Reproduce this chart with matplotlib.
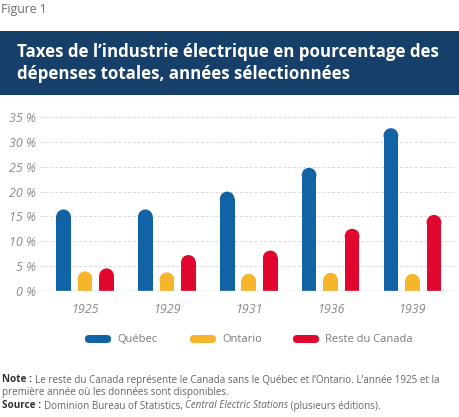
import numpy as np
import matplotlib.pyplot as plt
from matplotlib.patches import Rectangle, Ellipse, FancyBboxPatch

years = ["1925", "1929", "1931", "1936", "1939"]
quebec = [16.4, 16.4, 20.0, 24.8, 32.8]
ontario = [3.9, 3.7, 3.4, 3.6, 3.4]
reste = [4.5, 7.2, 8.1, 12.5, 15.3]

series_names = ["Québec", "Ontario", "Reste du Canada"]
colors = ["#1163a6", "#f7b52c", "#e0062e"]

W, H = 460, 417
fig = plt.figure(figsize=(W / 100, H / 100), dpi=100)
fig.patch.set_facecolor("white")

FONT = "Open Sans"
GREY = "#8a8a8a"

# figure label and title banner
fig.text(1 / W, 1 - 9 / H, "Figure 1", fontsize=8.8, color="#6f6f6f",
         family=FONT, va="center", ha="left")
fig.patches.append(Rectangle((0, 1 - 95 / H), 1, 64 / H, transform=fig.transFigure,
                             facecolor="#163f6a", edgecolor="none"))
fig.text(17 / W, 1 - 52 / H, "Taxes de l\u2019industrie électrique en pourcentage des",
         fontsize=12.2, color="white", weight="bold", family=FONT, va="center")
fig.text(17 / W, 1 - 74 / H, "dépenses totales, années sélectionnées",
         fontsize=12.2, color="white", weight="bold", family=FONT, va="center")

# chart area
x0, x1 = 40, 455
ytop, ybot = 117.3, 290.7
ax = fig.add_axes([x0 / W, 1 - ybot / H, (x1 - x0) / W, (ybot - ytop) / H])
xmin, xmax = -0.55, 4.52
ymax = 35
ax.set_xlim(xmin, xmax)
ax.set_ylim(0, ymax)
for s in ax.spines.values():
    s.set_visible(False)

for v in range(5, 40, 5):
    ax.axhline(v, color="#d9d9d9", lw=0.7, ls=(0, (3, 2)), zorder=0)
ax.axhline(0, color="#cfd3da", lw=1.0, zorder=3)

bw = 0.18
offs = [-0.263, 0.0, 0.263]
# radius of the round caps, in data units
px_x = (x1 - x0) / (xmax - xmin)
px_y = (ybot - ytop) / ymax
r_px = bw * px_x / 2
ry = r_px / px_y

x = np.arange(len(years))
for vals, off, c in zip([quebec, ontario, reste], offs, colors):
    for xi, v in zip(x, vals):
        ax.add_patch(Rectangle((xi + off - bw / 2, 0), bw, v - ry,
                               facecolor=c, edgecolor="none", zorder=2))
        ax.add_patch(Ellipse((xi + off, v - ry), bw, 2 * ry,
                             facecolor=c, edgecolor="none", zorder=2))

ax.set_xticks(x)
ax.set_xticklabels(years)
ax.set_yticks(range(0, 40, 5))
ax.set_yticklabels([f"{v} %" for v in range(0, 40, 5)])
ax.tick_params(length=0, colors=GREY, labelsize=9)
ax.tick_params(axis="x", pad=9)
ax.tick_params(axis="y", pad=3)
for lab in ax.get_xticklabels() + ax.get_yticklabels():
    lab.set_fontstyle("italic")
    lab.set_family(FONT)
    lab.set_color(GREY)

# legend
leg_x = [85, 190, 293]
ly = 339
for lx, name, c in zip(leg_x, series_names, colors):
    fig.patches.append(FancyBboxPatch((lx / W, 1 - (ly + 4) / H), 26 / W, 8 / H,
                                      boxstyle="round,pad=0,rounding_size=0.0095",
                                      mutation_aspect=H / W,
                                      transform=fig.transFigure,
                                      facecolor=c, edgecolor="none"))
    fig.text((lx + 32) / W, 1 - ly / H, name, fontsize=8, color="#7a7a7a",
             family=FONT, va="center", ha="left")

# note and source, pieces placed one after another
renderer = fig.canvas.get_renderer()


def text_run(y, pieces, fs=7.1):
    xpos = 2
    for s, weight, style, col in pieces:
        t = fig.text(xpos / W, 1 - y / H, s, fontsize=fs, weight=weight, style=style,
                     color=col, family=FONT, va="center", ha="left")
        xpos += t.get_window_extent(renderer).width


text_run(380, [("Note : ", "bold", "normal", "#333333"),
               ("Le reste du Canada représente le Canada sans le Québec et l\u2019Ontario. "
                "L\u2019année 1925 et la", "normal", "normal", "#666666")])
text_run(393, [("première année où les données sont disponibles.", "normal", "normal", "#666666")])
text_run(406, [("Source : ", "bold", "normal", "#333333"),
               ("Dominion Bureau of Statistics, ", "normal", "normal", "#666666"),
               ("Central Electric Stations", "normal", "italic", "#666666"),
               (" (plusieurs éditions).", "normal", "normal", "#666666")])

fig.savefig("out.png", dpi=100)
